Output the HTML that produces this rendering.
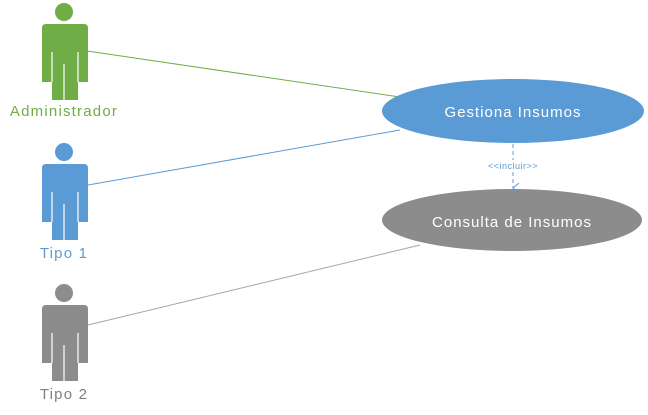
<!DOCTYPE html>
<html><head><style>body{margin:0;background:#fff}svg{display:block}</style></head><body>
<svg width="648" height="415" xmlns="http://www.w3.org/2000/svg" font-family="'Liberation Sans',sans-serif">
<defs>
<g id="act">
<circle cx="64" cy="0" r="9"/>
<path d="M46 12 H84 Q88 12 88 16 V70 H78 V88 H52 V70 H42 V16 Q42 12 46 12 Z"/>
<path d="M52 40 V70 M78 40 V70 M64 52 V88" stroke="#fff" stroke-width="1.2" fill="none"/>
</g>
<marker id="ar" markerWidth="12" markerHeight="10" refX="5" refY="7" orient="auto" markerUnits="userSpaceOnUse"><path d="M0 1 L5 7 L10 1" fill="none" stroke="#5b9bd5" stroke-width="1"/></marker>
</defs>
<line x1="87" y1="51" x2="400" y2="97" stroke="#70ad47" stroke-width="1"/>
<line x1="88" y1="185" x2="400" y2="130" stroke="#5b9bd5" stroke-width="1"/>
<line x1="88" y1="325" x2="420" y2="245" stroke="#a5a5a5" stroke-width="1"/>
<use href="#act" fill="#70ad47" transform="translate(0,12)"/>
<use href="#act" fill="#5b9bd5" transform="translate(0,152)"/>
<use href="#act" fill="#8c8c8c" transform="translate(0,293)"/>
<text x="64" y="116" font-size="15" letter-spacing="1.2" fill="#70ad47" text-anchor="middle">Administrador</text>
<text x="64" y="258" font-size="15" letter-spacing="1.2" fill="#5b9bd5" text-anchor="middle">Tipo 1</text>
<text x="64" y="399" font-size="15" letter-spacing="1.2" fill="#7f7f7f" text-anchor="middle">Tipo 2</text>
<ellipse cx="513" cy="111" rx="131" ry="32" fill="#5b9bd5"/>
<ellipse cx="512" cy="220" rx="130" ry="31" fill="#8c8c8c"/>
<line x1="513" y1="144" x2="513" y2="188" stroke="#5b9bd5" stroke-width="1" stroke-dasharray="4,3" marker-end="url(#ar)"/>
<rect x="484" y="160" width="58" height="11" fill="#fff"/>
<text x="513" y="169" font-size="9" letter-spacing="0.5" fill="#5b9bd5" text-anchor="middle">&lt;&lt;incluir&gt;&gt;</text>
<text x="513" y="117" font-size="15" letter-spacing="1" fill="#fff" text-anchor="middle">Gestiona Insumos</text>
<text x="512" y="227" font-size="15" letter-spacing="1" fill="#fff" text-anchor="middle">Consulta de Insumos</text>
</svg>
</body></html>
